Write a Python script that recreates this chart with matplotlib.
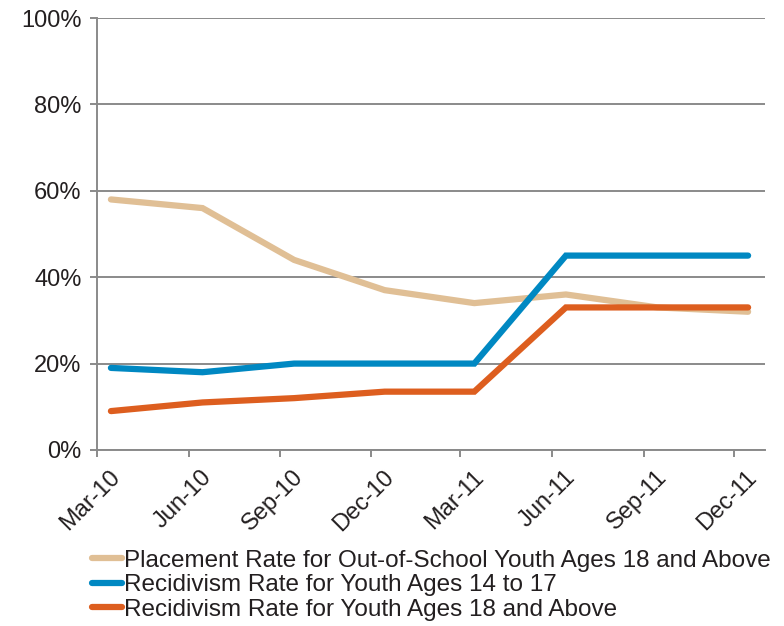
import datetime as dt
import matplotlib
matplotlib.use("Agg")
import matplotlib.pyplot as plt
import matplotlib.dates as mdates
import matplotlib.transforms as mtransforms
from matplotlib.ticker import FixedLocator, FuncFormatter

plt.rcParams['font.family'] = ['Liberation Sans', 'DejaVu Sans']

# quarterly reporting periods
quarters = ['Mar-10', 'Jun-10', 'Sep-10', 'Dec-10', 'Mar-11', 'Jun-11', 'Sep-11', 'Dec-11']
placement = [58, 56, 44, 37, 34, 36, 33, 32]
recid_14_17 = [19, 18, 20, 20, 20, 45, 45, 45]
recid_18_up = [9, 11, 12, 13.5, 13.5, 33, 33, 33]

labels = ['Placement Rate for Out-of-School Youth Ages 18 and Above',
          'Recidivism Rate for Youth Ages 14 to 17',
          'Recidivism Rate for Youth Ages 18 and Above']
colors = ['#e0bf95', '#0088c2', '#dd5e1f']

grey = '#8a8a8a'
txt = '#231f20'

month_starts = [dt.datetime.strptime(q, '%b-%y') for q in quarters]
mid_month = [d + dt.timedelta(days=14) for d in month_starts]

fig = plt.figure(figsize=(7.84, 6.26), dpi=100)
ax = fig.add_axes([0.1237, 0.2812, 0.8521, 0.69])

for vals, lab, col in zip([placement, recid_14_17, recid_18_up], labels, colors):
    ax.plot(mid_month, [v / 100 for v in vals], color=col, lw=4.5,
            solid_capstyle='round', solid_joinstyle='miter', label=lab, zorder=3)

ax.set_xlim(dt.datetime(2010, 3, 1), dt.datetime(2012, 1, 1))
ax.set_ylim(0, 1)

ax.set_yticks([0, 0.2, 0.4, 0.6, 0.8, 1.0])
ax.yaxis.set_major_formatter(FuncFormatter(lambda v, p: f'{v*100:.0f}%'))
ax.grid(axis='y', color=grey, lw=1.4, zorder=1)

# tick marks at the quarter starts, labels under the data points
ax.xaxis.set_major_locator(FixedLocator(mdates.date2num(month_starts)))
ax.xaxis.set_major_formatter(FuncFormatter(lambda v, p: ''))
ax.set_xticks(mdates.date2num(mid_month), quarters, minor=True)

ax.tick_params(axis='x', which='major', length=5, width=1.4, color=grey)
ax.tick_params(axis='x', which='minor', length=0, pad=16, labelsize=17, labelcolor=txt)
ax.tick_params(axis='y', length=5, width=1.4, color=grey, labelsize=17, labelcolor=txt, pad=6)
shift = mtransforms.ScaledTranslation(4 / 100, 0, fig.dpi_scale_trans)
for t in ax.get_xticklabels(minor=True):
    t.set_rotation(45)
    t.set_ha('right')
    t.set_va('center_baseline')
    t.set_rotation_mode('anchor')
    t.set_transform(t.get_transform() + shift)

for s in ['top', 'right']:
    ax.spines[s].set_visible(False)
for s in ['left', 'bottom']:
    ax.spines[s].set_color(grey)
    ax.spines[s].set_linewidth(1.4)

leg = fig.legend(loc='upper left', bbox_to_anchor=(0.117, 0.122), frameon=False,
                 fontsize=17.5, handlelength=1.25, handletextpad=0.08, labelspacing=0.1,
                 borderaxespad=0, borderpad=0)
for t in leg.get_texts():
    t.set_color(txt)

fig.savefig('out.png', dpi=100)
